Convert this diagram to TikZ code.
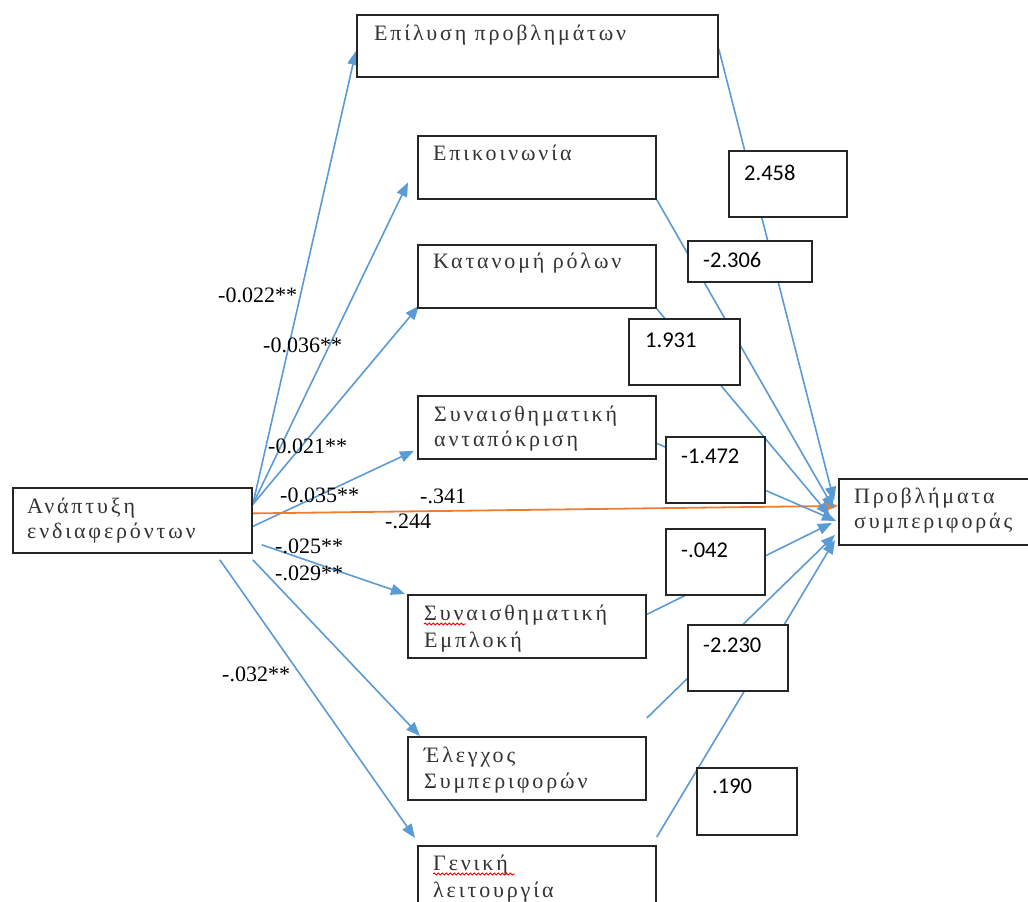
\documentclass[tikz,border=0pt]{standalone}
\usepackage{fontspec}
\setmainfont{Liberation Serif}
\newfontfamily\boxfont[LetterSpace=13]{Liberation Serif}
\newfontfamily\numfont{Carlito}
\usetikzlibrary{arrows.meta,decorations.pathmorphing}
\pgfdeclarelayer{background}
\pgfsetlayers{background,main}
\definecolor{pathblue}{HTML}{5B9BD5}
\definecolor{pathorange}{HTML}{ED7D31}
\begin{document}
\begin{tikzpicture}[x=1pt,y=-1pt,
  box/.style={draw=black!85,line width=1.8pt,fill=white,anchor=north west,inner sep=0pt},
  gtxt/.style={font=\boxfont\fontsize{22}{26}\selectfont,anchor=base west,inner sep=0pt,text=black!80},
  ntxt/.style={font=\numfont\fontsize{22.5}{27}\selectfont,anchor=base west,inner sep=0pt},
  coef/.style={font=\fontsize{22}{26}\selectfont,anchor=base west,inner sep=0pt},
  conn/.style={draw=pathblue,line width=1.6pt,-{Triangle[length=14pt,width=11pt]}},
  direct/.style={draw=pathorange,line width=1.8pt,-{Triangle[length=14pt,width=11pt]}},
  squig/.style={draw=red,line width=0.9pt,decorate,decoration={snake,segment length=4pt,amplitude=1pt}}]
\clip (0,0) rectangle (1028,902);

% variable boxes
\node[box,minimum width=361,minimum height=62] (epil) at (356,14) {};
\node[gtxt] (epilA) at ([xshift=18pt,yshift=-26pt]epil.north west) {Επίλυση προβλημάτων};

\node[box,minimum width=238,minimum height=63] (epik) at (417,135) {};
\node[gtxt] (epikA) at ([xshift=16pt,yshift=-25pt]epik.north west) {Επικοινωνία};

\node[box,minimum width=238,minimum height=63] (kat) at (417,244) {};
\node[gtxt] (katA) at ([xshift=16pt,yshift=-24pt]kat.north west) {Κατανομή ρόλων};

\node[box,minimum width=238,minimum height=63] (syna) at (417,395) {};
\node[gtxt] (synaA) at ([xshift=17pt,yshift=-26pt]syna.north west) {Συναισθηματική};
\node[gtxt] (synaB) at ([xshift=17pt,yshift=-51pt]syna.north west) {ανταπόκριση};

\node[box,minimum width=239,minimum height=65] (anap) at (12,487) {};
\node[gtxt] (anapA) at ([xshift=15pt,yshift=-26pt]anap.north west) {Ανάπτυξη};
\node[gtxt] (anapB) at ([xshift=15pt,yshift=-51pt]anap.north west) {ενδιαφερόντων};

\node[box,minimum width=210,minimum height=66] (prob) at (838,478) {};
\node[gtxt] (probA) at ([xshift=16pt,yshift=-25pt]prob.north west) {Προβλήματα};
\node[gtxt] (probB) at ([xshift=16pt,yshift=-50pt]prob.north west) {συμπεριφοράς};

\node[box,minimum width=238,minimum height=63] (empl) at (407,594) {};
\node[gtxt] (emplA) at ([xshift=17pt,yshift=-26pt]empl.north west) {Συναισθηματική};
\node[gtxt] (emplB) at ([xshift=17pt,yshift=-53pt]empl.north west) {Εμπλοκή};

\node[box,minimum width=238,minimum height=63] (elen) at (407,736) {};
\node[gtxt] (elenA) at ([xshift=17pt,yshift=-26pt]elen.north west) {Έλεγχος};
\node[gtxt] (elenB) at ([xshift=17pt,yshift=-52pt]elen.north west) {Συμπεριφορών};

\node[box,minimum width=238,minimum height=80] (gen) at (417,845) {};
\node[gtxt] (genA) at ([xshift=16pt,yshift=-25pt]gen.north west) {Γενική};
\node[gtxt] (genB) at ([xshift=16pt,yshift=-52pt]gen.north west) {λειτουργία};

% spelling marks
\draw[squig] ([xshift=17pt,yshift=-30pt]empl.north west) -- ++(42,0);
\draw[squig] ([xshift=16pt,yshift=-29pt]gen.north west) -- ++(82,0);

% coefficient boxes
\node[box,minimum width=118,minimum height=66] (c1) at (728,150) {};
\node[ntxt] (c1t) at ([xshift=16pt,yshift=-30pt]c1.north west) {2.458};
\node[box,minimum width=124,minimum height=41] (c2) at (687,240) {};
\node[ntxt] (c2t) at ([xshift=16pt,yshift=-27pt]c2.north west) {-2.306};
\node[box,minimum width=111,minimum height=66] (c3) at (628,318) {};
\node[ntxt] (c3t) at ([xshift=17pt,yshift=-29pt]c3.north west) {1.931};
\node[box,minimum width=99,minimum height=66] (c4) at (665,436) {};
\node[ntxt] (c4t) at ([xshift=16pt,yshift=-27pt]c4.north west) {-1.472};
\node[box,minimum width=99,minimum height=66] (c5) at (665,528) {};
\node[ntxt] (c5t) at ([xshift=16pt,yshift=-29pt]c5.north west) {-.042};
\node[box,minimum width=100,minimum height=66] (c6) at (687,624) {};
\node[ntxt] (c6t) at ([xshift=16pt,yshift=-28pt]c6.north west) {-2.230};
\node[box,minimum width=100,minimum height=67] (c7) at (696,767) {};
\node[ntxt] (c7t) at ([xshift=16pt,yshift=-26pt]c7.north west) {.190};

% path coefficients
\node[coef] (k1) at (218,302) {-0.022**};
\node[coef] (k2) at (263,352) {-0.036**};
\node[coef] (k3) at (268,453) {-0.021**};
\node[coef] (k4) at (280,502) {-0.035**};
\node[coef] (k5) at (420,503) {-.341};
\node[coef] (k6) at (385,528) {-.244};
\node[coef] (k7) at (275,553) {-.025**};
\node[coef] (k8) at (275,580) {-.029**};
\node[coef] (k9) at (222,681) {-.032**};

\begin{pgfonlayer}{background}
% paths to the mediators
\draw[conn] ([yshift=16pt]anap.east) -- ([yshift=-5pt]epil.west);
\draw[conn] ([yshift=16pt]anap.east) -- ([xshift=-9pt,yshift=-15pt]epik.west);
\draw[conn] ([yshift=16pt]anap.east) -- ([xshift=2pt,yshift=3pt]kat.south west);
\draw[conn] ([yshift=-6pt]anap.east) -- ([xshift=-3pt,yshift=9pt]syna.south west);
\draw[conn] ([xshift=9pt,yshift=9pt]anap.south east) -- ([xshift=-2pt]empl.north west);
\draw[conn] ([yshift=-6pt]anap.south east) -- ([xshift=13pt]elen.north west);
\draw[conn] ([xshift=-33pt,yshift=-6pt]anap.south east) -- ([xshift=-2pt,yshift=7pt]gen.north west);
% direct path
\draw[direct] ([yshift=7pt]anap.east) -- ([yshift=6pt]prob.west);
% paths to the outcome
\draw[conn] ([yshift=-3pt]epil.east) -- ([xshift=-4pt,yshift=11pt]prob.west);
\draw[conn] (epik.south east) -- ([xshift=-4pt,yshift=3pt]prob.west);
\draw[conn] (kat.south east) -- ([xshift=-8pt,yshift=-4pt]prob.west);
\draw[conn] ([yshift=-16pt]syna.east) -- ([xshift=-2pt,yshift=-9pt]prob.west);
\draw[conn] ([yshift=12pt]empl.east) -- ([xshift=-6pt,yshift=-11pt]prob.west);
\draw[conn] ([yshift=18pt]elen.north east) -- ([xshift=-3pt,yshift=-23pt]prob.west);
\draw[conn] ([yshift=8pt]gen.north east) -- ([xshift=-3pt,yshift=-28pt]prob.west);
\end{pgfonlayer}
\end{tikzpicture}
\end{document}
